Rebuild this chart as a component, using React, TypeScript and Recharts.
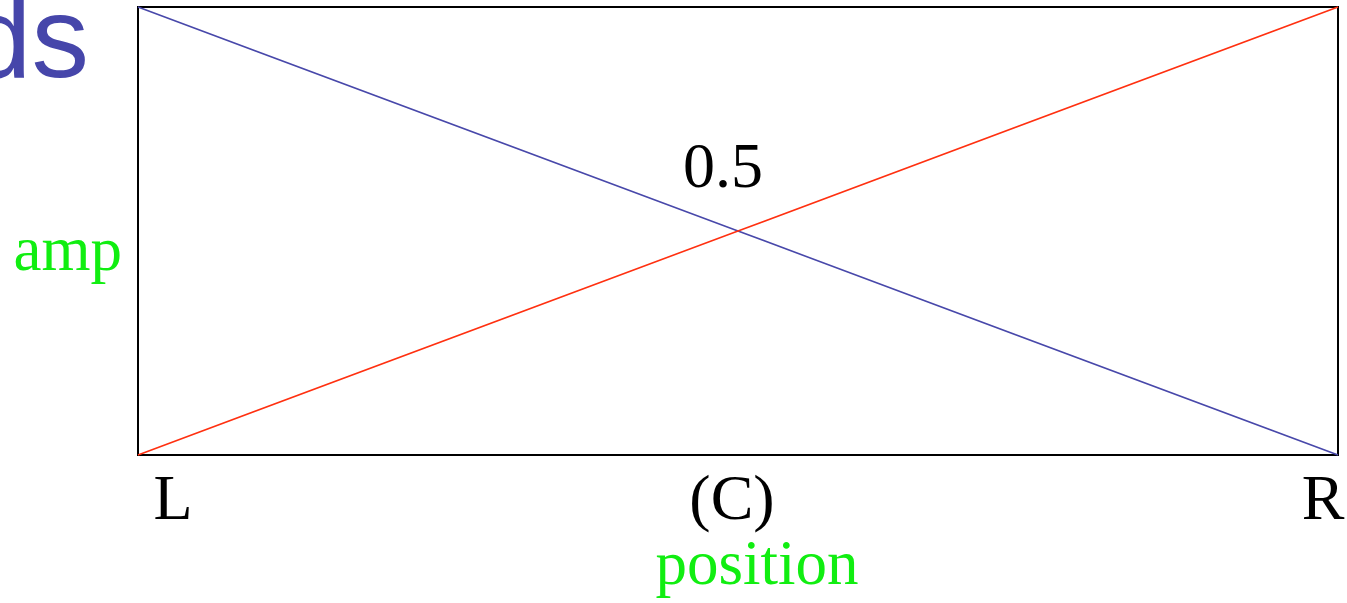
import React from 'react';
import { LineChart, Line, XAxis, YAxis, ReferenceArea, ReferenceDot } from 'recharts';

// positions across the field, left to right
const positions = [0, 0.5, 1];
const positionLabels = ['L', '(C)', 'R'];
// amplitude of each channel at those positions
const leftAmp = [1, 0.5, 0];
const rightAmp = [0, 0.5, 1];
const crossing = { position: 0.5, amp: 0.5 };

const W = 1347;
const H = 603;
const serif = '"Liberation Serif", "Times New Roman", serif';
const green = '#11ee11';

const data = positions.map((p, i) => ({ pos: p, left: leftAmp[i], right: rightAmp[i] }));

// small nudges so the edge labels sit like the old slide
const tickShift = [35, -6, -15];

const PositionTick = (props: any) => {
  const { x, y, payload, index } = props;
  const i = positions.indexOf(payload.value);
  return (
    <text
      x={x + tickShift[i >= 0 ? i : index]}
      y={y + 64}
      textAnchor="middle"
      fontFamily={serif}
      fontSize={64}
      fill="#000"
    >
      {positionLabels[i >= 0 ? i : index]}
    </text>
  );
};

export default function App() {
  return (
    <div style={{ position: 'absolute', left: 0, top: 0, width: W, height: H, overflow: 'hidden', background: '#fff' }}>
      <LineChart
        width={W}
        height={H}
        data={data}
        margin={{ top: 7, right: 9, left: 18, bottom: 48 }}
      >
        <XAxis
          dataKey="pos"
          type="number"
          domain={[0, 1]}
          ticks={positions}
          tick={<PositionTick />}
          tickLine={false}
          axisLine={false}
          tickSize={0}
          tickMargin={0}
          height={100}
          interval={0}
          label={{
            content: ({ viewBox }: any) => (
              <text
                x={viewBox.x + viewBox.width / 2 + 19}
                y={viewBox.y + 129}
                textAnchor="middle"
                fontFamily={serif}
                fontSize={63}
                fill={green}
              >
                position
              </text>
            ),
          }}
        />
        <YAxis
          type="number"
          domain={[0, 1]}
          width={120}
          tick={false}
          axisLine={false}
          tickLine={false}
          label={{
            content: ({ viewBox }: any) => (
              <text
                x={viewBox.x + viewBox.width - 16}
                y={viewBox.y + viewBox.height / 2 + 39}
                textAnchor="end"
                fontFamily={serif}
                fontSize={63}
                fill={green}
              >
                amp
              </text>
            ),
          }}
        />
        <ReferenceArea x1={0} x2={1} y1={0} y2={1} fill="none" stroke="#000" strokeWidth={2} ifOverflow="visible" />
        <Line type="linear" dataKey="left" stroke="#4848aa" strokeWidth={1.6} dot={false} isAnimationActive={false} />
        <Line type="linear" dataKey="right" stroke="#ff3010" strokeWidth={1.6} dot={false} isAnimationActive={false} />
        <ReferenceDot
          x={crossing.position}
          y={crossing.amp}
          r={0}
          fill="none"
          stroke="none"
          ifOverflow="visible"
          label={{
            content: ({ viewBox }: any) => (
              <text
                x={viewBox.x - 15}
                y={viewBox.y - 44}
                textAnchor="middle"
                fontFamily={serif}
                fontSize={64}
                fill="#000"
              >
                {String(crossing.amp)}
              </text>
            ),
          }}
        />
      </LineChart>
      <svg width={W} height={H} style={{ position: 'absolute', left: 0, top: 0, pointerEvents: 'none' }}>
        <text x={89} y={77} textAnchor="end" fontFamily='"Liberation Sans", Arial, sans-serif' fontSize={115} fill="#4646aa">
          ds
        </text>
      </svg>
    </div>
  );
}
